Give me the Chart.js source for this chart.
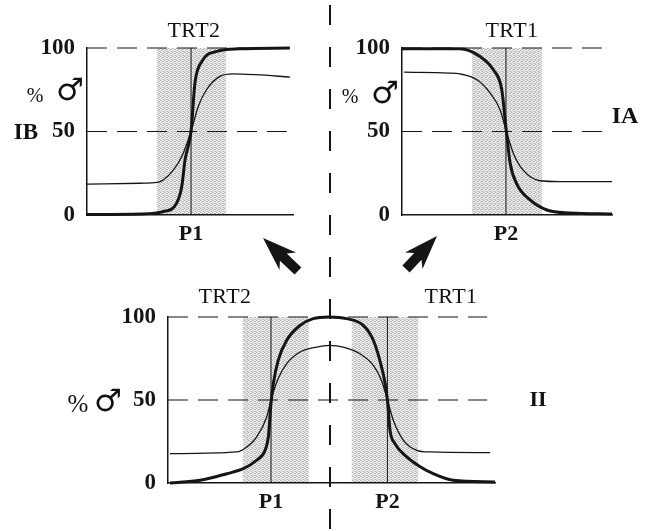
<!DOCTYPE html>
<html>
<head>
<meta charset="utf-8">
<script src="https://cdn.jsdelivr.net/npm/chart.js@4.4.1/dist/chart.umd.min.js"></script>
<style>
body { margin: 0; background: #fff; }
#wrap { position: relative; width: 645px; height: 531px; overflow: hidden; font-family: "Liberation Serif", serif; color: #111; }
canvas { position: absolute; }
.lbl { position: absolute; white-space: nowrap; line-height: 1; transform: translate(-50%, -50%); }
.trt { font-size: 22px; letter-spacing: 0.5px; }
.big { font-size: 23px; font-weight: bold; }
.male { font-family: "DejaVu Sans", sans-serif; font-weight: bold; font-size: 31px; }
svg { position: absolute; left: 0; top: 0; }
</style>
</head>
<body>
<div id="wrap">
  <canvas id="ib" width="310" height="250" style="left:0;top:0"></canvas>
  <canvas id="ia" width="330" height="250" style="left:315px;top:0"></canvas>
  <canvas id="ii" width="645" height="271" style="left:0;top:260px"></canvas>

  <div class="lbl trt" style="left:194px;top:30px">TRT2</div>
  <div class="lbl trt" style="left:512px;top:30px">TRT1</div>
  <div class="lbl trt" style="left:225px;top:296px">TRT2</div>
  <div class="lbl trt" style="left:451px;top:296px">TRT1</div>

  <div class="lbl" style="left:35px;top:95px;font-size:20px">%</div>
  <div class="lbl male" style="left:70px;top:89px">♂</div>
  <div class="lbl big" style="left:26px;top:131px">IB</div>

  <div class="lbl" style="left:350px;top:96px;font-size:20px">%</div>
  <div class="lbl male" style="left:385px;top:92px">♂</div>
  <div class="lbl big" style="left:625px;top:115px;font-size:24px">IA</div>

  <div class="lbl" style="left:78px;top:403px;font-size:25px">%</div>
  <div class="lbl male" style="left:108px;top:400px">♂</div>
  <div class="lbl big" style="left:538px;top:399px;font-size:22px">II</div>

  <svg id="over" width="645" height="531"></svg>
</div>
<script>
// y levels shown on every panel
const yTicks = [0, 50, 100];
const refLevels = [50, 100];

// IB : TRT2 panel (top left)
const ibThinX = [0, 26, 34, 37, 42, 46, 50.5, 54, 58, 64.5, 71, 82, 98.5];
const ibThinY = [18.5, 19, 19.5, 21, 27, 35, 50, 65, 75, 83, 84.5, 84, 82.6];
const ibThickX = [0, 26, 37, 43.5, 46, 47.6, 50.5, 52.4, 55.8, 63, 74, 98.5];
const ibThickY = [0.3, 0.6, 2, 7, 17, 33, 50, 79, 92, 98, 99.5, 100];
const ibP = [50.5];
const ibPLabels = ['P1'];
const ibBands = [[34, 67.5]];

// IA : TRT1 panel (top right)
const iaThinX = [1, 22, 27.6, 35.7, 42, 46.7, 49.7, 53, 57.6, 65.7, 75, 100];
const iaThinY = [85.5, 85, 84.5, 81, 73, 63, 50, 37, 27, 20.5, 20, 20];
const iaThickX = [0, 27.6, 37, 43.5, 47.5, 49.7, 51.5, 54.5, 61, 69, 80, 100];
const iaThickY = [99.6, 99.5, 95, 87, 75, 50, 31, 19, 9, 3, 1.2, 0.6];
const iaP = [49.5];
const iaPLabels = ['P2'];
const iaBands = [[33.3, 66.7]];

// II : both treatments (bottom)
const iiThinX = [0.6, 21, 24.1, 27.1, 30.2, 31.5, 33.7, 36.3, 40.4, 45.5, 49.3, 53.6, 58.7, 62.8, 65.3, 67.1, 68.9, 72, 76.1, 80.1, 98.5];
const iiThinY = [17.7, 18.7, 21.7, 27.7, 39.8, 50, 62.9, 71.9, 78.9, 81.9, 82.9, 81.9, 77.9, 70.9, 61.8, 50, 37.8, 25.7, 19.7, 18.7, 18.3];
const iiThickX = [0.6, 9.8, 18, 23, 27.1, 29.7, 30.7, 31.5, 32.2, 33.7, 36.3, 40.4, 44.4, 49.3, 54.6, 59.7, 62.8, 65.3, 66.4, 67.1, 67.9, 69.4, 73, 76.5, 81.1, 87.2, 100];
const iiThickY = [0, 1.6, 5.6, 8.6, 13.7, 19.7, 28, 48, 59.8, 73.9, 86, 95, 99, 100, 99, 95, 86, 70, 60, 50, 31.7, 23.7, 15.7, 10.6, 5.6, 1.6, 0.6];
const iiP = [31.5, 67.1];
const iiPLabels = ['P1', 'P2'];
const iiBands = [[23, 43], [56.2, 76.5]];

const INK = '#151515';
const FONT = '"Liberation Serif", serif';

// fine grey stipple for the shaded windows
function stipple() {
    const c = document.createElement('canvas');
    c.width = 4; c.height = 4;
    const g = c.getContext('2d');
    g.fillStyle = '#eeeeee'; g.fillRect(0, 0, 4, 4);
    g.fillStyle = '#b4b4b4';
    [[0, 0], [2, 1], [1, 2], [3, 3], [3, 1]].forEach(([a, b]) => g.fillRect(a, b, 1, 1));
    g.fillStyle = '#d2d2d2';
    [[1, 0], [0, 3], [2, 3]].forEach(([a, b]) => g.fillRect(a, b, 1, 1));
    return g.createPattern(c, 'repeat');
}
const shade = stipple();

// grey bands drawn under the axes
const bandsPlugin = {
    id: 'bands',
    beforeDraw(chart, args, opts) {
        const { ctx, scales: { x, y } } = chart;
        ctx.save();
        ctx.fillStyle = shade;
        (opts.list || []).forEach(([a, b]) => {
            const x0 = x.getPixelForValue(a), x1 = x.getPixelForValue(b);
            const y0 = y.getPixelForValue(100), y1 = y.getPixelForValue(0);
            ctx.fillRect(x0, y0, x1 - x0, y1 - y0);
        });
        ctx.restore();
    }
};

const zip = (xs, ys) => xs.map((v, i) => ({ x: v, y: ys[i] }));

function makePanel(id, p) {
    const ds = [];
    refLevels.forEach(v => ds.push({
        data: [{ x: 0, y: v }, { x: p.dashEnd, y: v }],
        borderColor: INK, borderWidth: 1.2, borderDash: [20, 10], pointRadius: 0
    }));
    p.pLines.forEach(v => ds.push({
        data: [{ x: v, y: 0 }, { x: v, y: 100 }],
        borderColor: INK, borderWidth: 1, pointRadius: 0
    }));
    ds.push({ data: zip(p.thinX, p.thinY), borderColor: INK, borderWidth: 1.3, pointRadius: 0, cubicInterpolationMode: 'monotone' });
    ds.push({ data: zip(p.thickX, p.thickY), borderColor: INK, borderWidth: 3, pointRadius: 0, cubicInterpolationMode: 'monotone' });

    new Chart(document.getElementById(id), {
        type: 'line',
        data: { datasets: ds },
        plugins: [bandsPlugin],
        options: {
            responsive: false,
            animation: false,
            clip: false,
            layout: { padding: { top: p.top, right: p.right, left: 0, bottom: 0 } },
            plugins: { legend: { display: false }, tooltip: { enabled: false }, bands: { list: p.bands } },
            scales: {
                x: {
                    type: 'linear', min: 0, max: 100,
                    afterFit: s => { s.height = p.xh; },
                    afterBuildTicks: s => { s.ticks = p.pLines.map(v => ({ value: v })); },
                    grid: { display: false, drawTicks: false },
                    border: { display: true, color: INK, width: 1.5 },
                    ticks: {
                        padding: 6, color: INK, maxRotation: 0, autoSkip: false,
                        font: { family: FONT, size: 22, weight: 'bold' },
                        callback: (v, i) => p.pLabels[i]
                    }
                },
                y: {
                    type: 'linear', min: 0, max: 100,
                    afterFit: s => { s.width = p.left; },
                    afterBuildTicks: s => { s.ticks = yTicks.map(v => ({ value: v })); },
                    grid: { display: false, drawTicks: false },
                    border: { display: true, color: INK, width: 1.5 },
                    ticks: {
                        padding: 12, color: INK,
                        font: { family: FONT, size: 23, weight: 'bold' }
                    }
                }
            }
        }
    });
}

makePanel('ib', { thinX: ibThinX, thinY: ibThinY, thickX: ibThickX, thickY: ibThickY,
    pLines: ibP, pLabels: ibPLabels, bands: ibBands, dashEnd: 97,
    left: 87, top: 48, right: 17, xh: 35 });
makePanel('ia', { thinX: iaThinX, thinY: iaThinY, thickX: iaThickX, thickY: iaThickY,
    pLines: iaP, pLabels: iaPLabels, bands: iaBands, dashEnd: 95.2,
    left: 87, top: 48, right: 33, xh: 35 });
makePanel('ii', { thinX: iiThinX, thinY: iiThinY, thickX: iiThickX, thickY: iiThickY,
    pLines: iiP, pLabels: iiPLabels, bands: iiBands, dashEnd: 97.6,
    left: 168, top: 57, right: 150, xh: 48 });

// overlay: central dashed divider and the two arrows
function arrow(tx, ty, sx, sy) {
    const len = Math.hypot(sx - tx, sy - ty);
    const ux = (sx - tx) / len, uy = (sy - ty) / len;
    const nx = -uy, ny = ux;
    const hl = 32, hw = 12, sw = 5;
    const pt = (d, o) => (tx + ux * d + nx * o).toFixed(1) + ',' + (ty + uy * d + ny * o).toFixed(1);
    return [pt(0, 0), pt(hl + 2, hw), pt(hl - 4, sw), pt(len, sw), pt(len, -sw), pt(hl - 4, -sw), pt(hl + 2, -hw)].join(' ');
}
const svg = document.getElementById('over');
svg.innerHTML =
    '<line x1="330" y1="5" x2="330" y2="531" stroke="' + INK + '" stroke-width="2" stroke-dasharray="20 22"/>' +
    '<polygon fill="' + INK + '" points="' + arrow(263, 238, 298, 271) + '"/>' +
    '<polygon fill="' + INK + '" points="' + arrow(437, 236, 406, 269) + '"/>';
</script>
</body>
</html>
